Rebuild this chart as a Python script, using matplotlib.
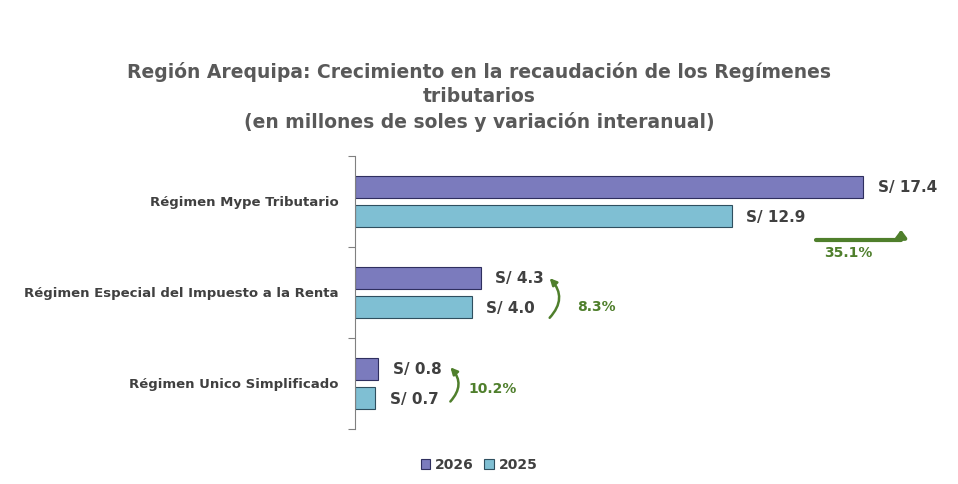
import matplotlib.pyplot as plt
import numpy as np

categories = ['Régimen Mype Tributario', 'Régimen Especial del Impuesto a la Renta', 'Régimen Unico Simplificado']
v2026 = [17.4, 4.3, 0.8]
v2025 = [12.9, 4.0, 0.7]
growth = ['35.1%', '8.3%', '10.2%']

c26 = '#7B7BBD'
c25 = '#7FBFD3'
green = '#4F7F2C'
txt = '#404040'

fig = plt.figure(figsize=(9.58, 4.85), dpi=100)
ax = fig.add_axes([0.3706, 0.1134, 0.6096, 0.5629])
y = np.arange(len(categories))
off, h = 0.16, 0.24
ax.barh(y - off, v2026, h, color=c26, edgecolor='#2F2F5F', linewidth=0.8, label='2026')
ax.barh(y + off, v2025, h, color=c25, edgecolor='#2F4F5F', linewidth=0.8, label='2025')
for i in range(len(categories)):
    ax.text(v2026[i] + 0.5, y[i] - off, f'S/ {v2026[i]:.1f}', va='center', fontsize=11, fontweight='bold', color=txt)
    ax.text(v2025[i] + 0.5, y[i] + off, f'S/ {v2025[i]:.1f}', va='center', fontsize=11, fontweight='bold', color=txt)

ax.set_xlim(0, 20)
ax.set_ylim(2.5, -0.5)
ax.set_yticks([-0.5, 0.5, 1.5, 2.5])
ax.set_yticklabels([])
ax.tick_params(axis='y', length=5, color='#808080')
for i, c in enumerate(categories):
    ax.text(-0.55, y[i], c, ha='right', va='center', fontsize=9.5, fontweight='bold', color=txt)
ax.set_xticks([])
for s in ['top', 'right', 'bottom']:
    ax.spines[s].set_visible(False)
ax.spines['left'].set_color('#808080')

# growth arrows
ax.annotate('', xy=(18.7, 0.28), xytext=(15.7, 0.42),
            arrowprops=dict(arrowstyle='-|>,head_width=0.3,head_length=0.4', color=green, lw=3,
                            connectionstyle='angle,angleA=0,angleB=90,rad=0'))
ax.text(16.9, 0.56, growth[0], ha='center', va='center', fontsize=10, fontweight='bold', color=green)
ax.annotate('', xy=(6.6, 0.82), xytext=(6.6, 1.3),
            arrowprops=dict(arrowstyle='-|>', color=green, lw=1.8, connectionstyle='arc3,rad=0.5'))
ax.text(7.6, 1.15, growth[1], ha='left', va='center', fontsize=10, fontweight='bold', color=green)
ax.annotate('', xy=(3.2, 1.8), xytext=(3.2, 2.22),
            arrowprops=dict(arrowstyle='-|>', color=green, lw=1.8, connectionstyle='arc3,rad=0.5'))
ax.text(3.9, 2.05, growth[2], ha='left', va='center', fontsize=10, fontweight='bold', color=green)

fig.text(0.5, 0.80, 'Región Arequipa: Crecimiento en la recaudación de los Regímenes\ntributarios\n(en millones de soles y variación interanual)',
         ha='center', va='center', fontsize=13.5, fontweight='bold', color='#595959', linespacing=1.35)
fig.legend(loc='lower center', bbox_to_anchor=(0.5, 0.0), ncol=2, frameon=False, fontsize=10,
           handlelength=0.7, handleheight=0.7, columnspacing=0.8, handletextpad=0.3,
           prop={'weight': 'bold', 'size': 10}, labelcolor=txt)
fig.savefig('out.png', dpi=100)
